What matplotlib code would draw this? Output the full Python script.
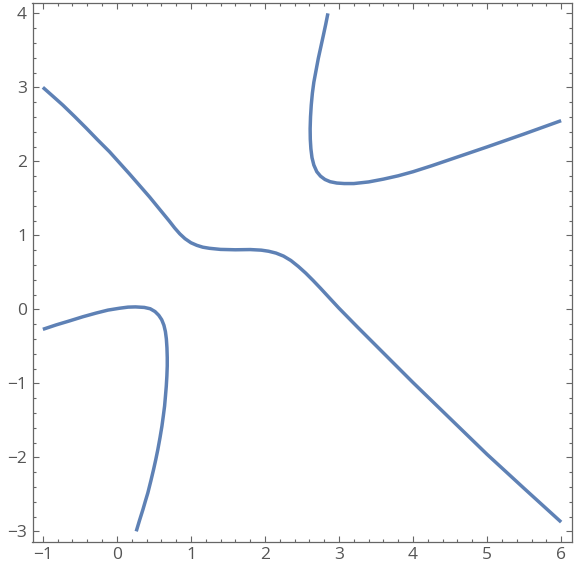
import numpy as np
import matplotlib
matplotlib.use('Agg')
import matplotlib.pyplot as plt
from matplotlib.ticker import MultipleLocator

# 主分支：从左上到右下
main_x = [-1.0, -0.87, -0.73, -0.57, -0.415, -0.26, -0.10, 0.035, 0.17, 0.305, 0.44, 0.575,
          0.71, 0.78, 0.85, 0.92, 1.0, 1.08, 1.16, 1.25, 1.40, 1.60, 1.80, 1.95, 2.05,
          2.15, 2.25, 2.35, 2.45, 2.55, 2.65, 2.75, 2.87, 3.0, 3.25, 3.5, 3.75, 4.0,
          4.5, 5.0, 5.5, 6.0]
main_y = [3.0, 2.885, 2.76, 2.605, 2.45, 2.29, 2.13, 1.98, 1.83, 1.675, 1.52, 1.355,
          1.19, 1.10, 1.02, 0.955, 0.90, 0.865, 0.84, 0.825, 0.81, 0.805, 0.808, 0.80, 0.785,
          0.76, 0.72, 0.66, 0.58, 0.49, 0.39, 0.285, 0.155, 0.015, -0.24, -0.49, -0.74, -0.99,
          -1.475, -1.96, -2.42, -2.875]

# 右上分支
upper_x = [2.85, 2.82, 2.79, 2.755, 2.72, 2.69, 2.66, 2.64, 2.625, 2.615, 2.61, 2.612,
           2.62, 2.635, 2.66, 2.70, 2.75, 2.81, 2.88, 2.97, 3.07, 3.20, 3.40, 3.60,
           3.80, 4.0, 4.25, 4.5, 4.75, 5.0, 5.5, 6.0]
upper_y = [4.0, 3.85, 3.71, 3.55, 3.39, 3.23, 3.07, 2.92, 2.76, 2.60, 2.44, 2.30,
           2.17, 2.05, 1.95, 1.86, 1.80, 1.755, 1.725, 1.707, 1.70, 1.70, 1.722, 1.76,
           1.805, 1.86, 1.94, 2.025, 2.11, 2.195, 2.37, 2.55]

# 左下分支
lower_x = [-1.0, -0.82, -0.64, -0.46, -0.28, -0.12, 0.035, 0.15, 0.25, 0.37, 0.45, 0.515,
           0.565, 0.605, 0.635, 0.655, 0.668, 0.676, 0.68, 0.68, 0.675, 0.667, 0.656, 0.644,
           0.627, 0.608, 0.582, 0.553, 0.525, 0.495, 0.458, 0.418, 0.385, 0.351, 0.306, 0.261]
lower_y = [-0.27, -0.21, -0.156, -0.10, -0.05, -0.01, 0.015, 0.03, 0.033, 0.026, 0.008, -0.03,
           -0.08, -0.14, -0.215, -0.30, -0.40, -0.52, -0.65, -0.766, -0.90, -1.037, -1.17, -1.307,
           -1.44, -1.579, -1.735, -1.894, -2.03, -2.165, -2.32, -2.48, -2.59, -2.707, -2.85, -3.0]

x_major = [-1, 0, 1, 2, 3, 4, 5, 6]
y_major = [-3, -2, -1, 0, 1, 2, 3, 4]

line_color = '#5E81B5'
frame_color = '#666666'

plt.rcParams['font.family'] = ['Open Sans', 'DejaVu Sans']

fig = plt.figure(figsize=(5.74, 5.72), dpi=100)
ax = fig.add_axes([32.5 / 574, 30.3 / 572, 539 / 574, 538.7 / 572])

for xs, ys in [(main_x, main_y), (upper_x, upper_y), (lower_x, lower_y)]:
    ax.plot(xs, ys, color=line_color, lw=2.5, solid_capstyle='butt', solid_joinstyle='round')

ax.set_xlim(-1.14, 6.14)
ax.set_ylim(-3.14, 4.14)
ax.set_xticks(x_major)
ax.set_yticks(y_major)
ax.set_xticklabels([str(v).replace('-', '\u2212') for v in x_major])
ax.set_yticklabels([str(v).replace('-', '\u2212') for v in y_major])
ax.xaxis.set_minor_locator(MultipleLocator(0.2))
ax.yaxis.set_minor_locator(MultipleLocator(0.2))

ax.tick_params(which='both', direction='in', top=True, right=True, color=frame_color,
               width=0.8, labelcolor='#555555', labelsize=12.5)
ax.tick_params(which='major', length=4, pad=4)
ax.tick_params(which='minor', length=2.2)

for s in ax.spines.values():
    s.set_color(frame_color)
    s.set_linewidth(0.9)

fig.savefig('out.png', dpi=100)
